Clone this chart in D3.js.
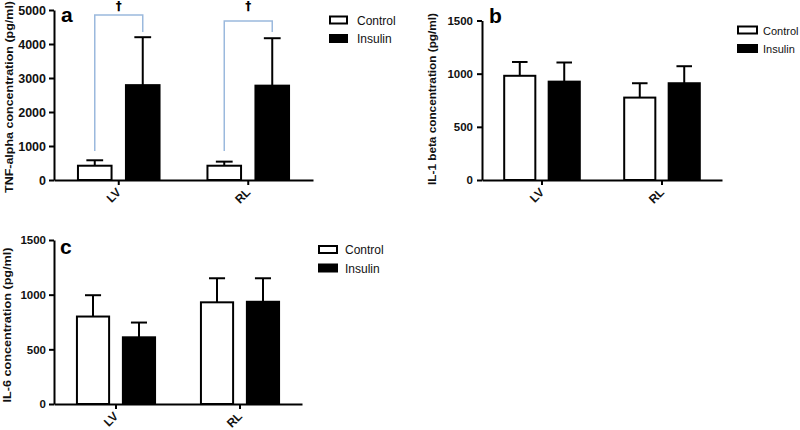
<!DOCTYPE html>
<html>
<head>
<meta charset="utf-8">
<script src="https://d3js.org/d3.v7.min.js"></script>
<style>
  body { margin: 0; background: #fff; }
  svg { font-family: "Liberation Sans", Arial, sans-serif; }
  .axis path, .axis line { stroke: #000; stroke-width: 2px; }
  .axis text { font-weight: bold; font-size: 12px; fill: #111; }
  .ytitle { font-weight: bold; font-size: 10.5px; fill: #111; }
  .legend text { font-size: 12px; fill: #111; }
  .bracket { fill: none; stroke: #9bb9dd; stroke-width: 1.5px; }
</style>
</head>
<body>
<svg id="chart" width="800" height="430"></svg>
<script>
const groups = ["LV", "RL"];
const series = ["Control", "Insulin"];

// TNF-alpha (pg/ml)
const tnfControl = [420, 420];
const tnfControlSD = [160, 120];
const tnfInsulin = [2790, 2775];
const tnfInsulinSD = [1410, 1395];
const tnfTicks = [0, 1000, 2000, 3000, 4000, 5000];

// IL-1 beta (pg/ml)
const il1Control = [980, 775];
const il1ControlSD = [130, 135];
const il1Insulin = [925, 910];
const il1InsulinSD = [180, 160];

// IL-6 (pg/ml)
const il6Control = [800, 930];
const il6ControlSD = [195, 220];
const il6Insulin = [610, 935];
const il6InsulinSD = [135, 215];

const ilTicks = [0, 500, 1000, 1500];

// significance brackets in panel a: [group, top, left foot, right foot]
const tnfBrackets = [["LV", 4850, 850, 4350], ["RL", 4680, 850, 4350]];

const svg = d3.select("#chart");

function drawPanel(p) {
  const g = svg.append("g");
  const x = d3.scaleBand().domain(groups).range([p.left, p.right]);
  const y = d3.scaleLinear().domain([0, d3.max(p.ticks)]).range([p.bottom, p.top]);
  const span = x.step() * 0.63;
  const xi = d3.scaleBand().domain(series).range([-span / 2, span / 2]).paddingInner(0.3);

  const rows = [];
  groups.forEach((grp, i) => {
    rows.push({grp, s: "Control", v: p.control[i], sd: p.controlSD[i]});
    rows.push({grp, s: "Insulin", v: p.insulin[i], sd: p.insulinSD[i]});
  });

  const cx = d => x(d.grp) + x.bandwidth() / 2 + xi(d.s);

  // error bars (upper only)
  const eb = g.selectAll(".err").data(rows).join("g");
  eb.append("line")
    .attr("x1", d => cx(d) + xi.bandwidth() / 2)
    .attr("x2", d => cx(d) + xi.bandwidth() / 2)
    .attr("y1", d => y(d.v)).attr("y2", d => y(d.v + d.sd))
    .attr("stroke", "#000").attr("stroke-width", 2);
  eb.append("line")
    .attr("x1", d => cx(d) + xi.bandwidth() / 4)
    .attr("x2", d => cx(d) + xi.bandwidth() * 3 / 4)
    .attr("y1", d => y(d.v + d.sd)).attr("y2", d => y(d.v + d.sd))
    .attr("stroke", "#000").attr("stroke-width", 2);

  g.selectAll(".bar").data(rows).join("rect")
    .attr("x", d => cx(d)).attr("width", xi.bandwidth())
    .attr("y", d => y(d.v)).attr("height", d => y(0) - y(d.v))
    .attr("fill", d => d.s === "Control" ? "#fff" : "#000")
    .attr("stroke", "#000").attr("stroke-width", 2);

  g.append("g").attr("class", "axis")
    .attr("transform", `translate(${p.left},0)`)
    .call(d3.axisLeft(y).tickValues(p.ticks).tickFormat(d3.format("d"))
      .tickSize(5).tickSizeOuter(0).tickPadding(p.tickPad))
    .call(a => a.selectAll("text").style("font-size", p.tickFont + "px"));

  const xa = g.append("g").attr("class", "axis")
    .attr("transform", `translate(0,${p.bottom})`)
    .call(d3.axisBottom(x).tickSize(5).tickSizeOuter(0));
  xa.selectAll("text")
    .attr("x", 0).attr("y", 0).attr("dy", 0)
    .attr("text-anchor", "end")
    .attr("transform", "translate(3,13) rotate(-45)");

  g.append("text").attr("class", "ytitle")
    .attr("transform", `translate(${p.titleX},${p.titleY}) rotate(-90)`)
    .attr("text-anchor", "middle")
    .attr("textLength", p.titleLen).attr("lengthAdjust", "spacingAndGlyphs")
    .text(p.title);

  g.append("text").attr("x", p.labelX).attr("y", p.labelY)
    .attr("font-weight", "bold").attr("font-size", "21px").text(p.label);

  const lg = g.append("g").attr("class", "legend");
  series.forEach((s, i) => {
    lg.append("rect")
      .attr("x", p.legX + 1).attr("y", p.legY + i * 18.5 - 3.5)
      .attr("width", p.legW - 2).attr("height", 7)
      .attr("fill", s === "Control" ? "#fff" : "#000")
      .attr("stroke", "#000").attr("stroke-width", 2);
    lg.append("text").attr("x", p.legX + p.legW + p.legGap).attr("y", p.legY + i * 18.5 + 4.5)
      .style("font-size", p.legFont + "px")
      .text(s);
  });

  return {x, y, xi, g};
}

const pa = drawPanel({
  left: 54, right: 313, top: 10, bottom: 180, ticks: tnfTicks, tickPad: 3, tickFont: 12.5,
  control: tnfControl, controlSD: tnfControlSD, insulin: tnfInsulin, insulinSD: tnfInsulinSD,
  title: "TNF-alpha concentration (pg/ml)", titleX: 13, titleY: 97, titleLen: 192,
  label: "a", labelX: 61, labelY: 22, legX: 329, legY: 20, legW: 19, legGap: 9, legFont: 12
});

drawPanel({
  left: 482, right: 722, top: 20.5, bottom: 180, ticks: ilTicks, tickPad: 4, tickFont: 11.5,
  control: il1Control, controlSD: il1ControlSD, insulin: il1Insulin, insulinSD: il1InsulinSD,
  title: "IL-1 beta concentration (pg/ml)", titleX: 436, titleY: 99, titleLen: 172,
  label: "b", labelX: 489, labelY: 23, legX: 737, legY: 30, legW: 21, legGap: 5, legFont: 11
});

drawPanel({
  left: 54, right: 302, top: 240, bottom: 404, ticks: ilTicks, tickPad: 3, tickFont: 11.5,
  control: il6Control, controlSD: il6ControlSD, insulin: il6Insulin, insulinSD: il6InsulinSD,
  title: "IL-6 concentration (pg/ml)", titleX: 11, titleY: 325, titleLen: 155,
  label: "c", labelX: 60, labelY: 254, legX: 318, legY: 249.5, legW: 20, legGap: 7, legFont: 12
});

// significance brackets for TNF-alpha
const bx = g => pa.x(g) + pa.x.bandwidth() / 2;
tnfBrackets.forEach(([grp, top, lf, rf]) => {
  const x1 = bx(grp) + pa.xi("Control") + pa.xi.bandwidth() / 2;
  const x2 = bx(grp) + pa.xi("Insulin") + pa.xi.bandwidth() / 2;
  pa.g.append("path").attr("class", "bracket")
    .attr("d", `M${x1},${pa.y(lf)}V${pa.y(top)}H${x2}V${pa.y(rf)}`);
  pa.g.append("text").attr("x", bx(grp)).attr("y", 10)
    .attr("text-anchor", "middle").attr("font-weight", "bold").attr("font-size", "12px")
    .attr("fill", "#000").style("font-family", "'DejaVu Sans', sans-serif")
    .text("\u2020");
});
</script>
</body>
</html>
